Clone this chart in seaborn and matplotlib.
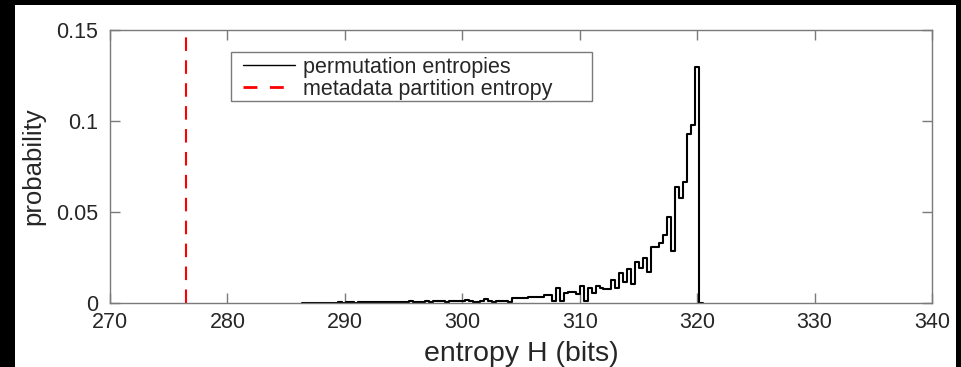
import numpy as np
import pandas as pd
import matplotlib
matplotlib.use("Agg")
import matplotlib.pyplot as plt
from matplotlib.patches import Rectangle
from matplotlib.lines import Line2D
import seaborn as sns

# ---- data ----
bin_lo = 286.35
bin_hi = 320.13
prob = [
    0.0001, 0.0001, 0.0002, 0.0001, 0.0002, 0.0002, 0.0001, 0.0002, 0.0002, 0.0003,
    0.0002, 0.0003, 0.0003, 0.0002, 0.0003, 0.0004, 0.0003, 0.0004, 0.0005, 0.0004,
    0.0005, 0.0004, 0.0006, 0.0005, 0.0007, 0.0006, 0.0008, 0.0009, 0.0008, 0.0006,
    0.0008, 0.0009, 0.0007, 0.0010, 0.0009, 0.0011, 0.0008, 0.0012, 0.0010, 0.0013,
    0.0011, 0.0014, 0.0012, 0.0008, 0.0005, 0.0010, 0.0020, 0.0010, 0.0008, 0.0010,
    0.0012, 0.0012, 0.0008, 0.0027, 0.0029, 0.0027, 0.0027, 0.0031, 0.0031, 0.0031,
    0.0031, 0.0044, 0.0044, 0.0010, 0.0080, 0.0010, 0.0057, 0.0060, 0.0060, 0.0050,
    0.0093, 0.0010, 0.0084, 0.0057, 0.0095, 0.0084, 0.0077, 0.0077, 0.0126, 0.0080,
    0.0163, 0.0117, 0.0185, 0.0104, 0.0227, 0.0190, 0.0245, 0.0172, 0.0310, 0.0310,
    0.0328, 0.0374, 0.0474, 0.0286, 0.0640, 0.0575, 0.0667, 0.0929, 0.0978, 0.1295,
]
metadata_entropy = 276.5
x_ticks = [270, 280, 290, 300, 310, 320, 330, 340]
y_ticks = [0, 0.05, 0.1, 0.15]
y_ticklabels = ["0", "0.05", "0.1", "0.15"]
xlabel = "entropy H (bits)"
ylabel = "probability"
legend_labels = ["permutation entropies", "metadata partition entropy"]

# ---- build histogram table ----
n = len(prob)
edges = np.linspace(bin_lo, bin_hi, n + 1)
width = edges[1] - edges[0]
# one extra empty bin so the outline drops back to zero at the last edge
edges_ext = [float(e) for e in np.append(edges, bin_hi + width)]
centers = [(a + b) / 2 for a, b in zip(edges_ext[:-1], edges_ext[1:])]
df = pd.DataFrame({"H": centers, "p": prob + [0.0]})

sns.set_theme(style="white")
plt.rcParams["font.family"] = ["Liberation Sans", "DejaVu Sans"]

W, H = 961, 367
fig = plt.figure(figsize=(W / 100, H / 100), dpi=100)
fig.patch.set_facecolor("black")
fig.add_artist(Rectangle((15 / W, 0), (956 - 15) / W, (H - 5) / H,
                         transform=fig.transFigure, facecolor="white",
                         edgecolor="none", zorder=-10))

AX_L, AX_R, AX_T, AX_B = 110, 932, 30, 303
ax = fig.add_axes([AX_L / W, (H - AX_B) / H, (AX_R - AX_L) / W, (AX_B - AX_T) / H])
ax.set_facecolor("white")

sns.histplot(data=df, x="H", weights="p", bins=edges_ext, element="step",
             fill=False, color="black", linewidth=1.5, ax=ax)
ax.axvline(metadata_entropy, color="#ff0000", linewidth=1.5, dashes=(6.5, 4.5))

ax.set_xlim(270, 340)
ax.set_ylim(0, 0.15)
ax.set_xticks(x_ticks)
ax.set_xticklabels([str(t) for t in x_ticks])
ax.set_yticks(y_ticks)
ax.set_yticklabels(y_ticklabels)

axis_col = "#7a7a7a"
text_col = "#262626"
for s in ax.spines.values():
    s.set_visible(True)
    s.set_color(axis_col)
    s.set_linewidth(1.0)
ax.tick_params(direction="in", length=7, width=1.0, color=axis_col,
               labelcolor=text_col, labelsize=15.5, top=True, right=True,
               bottom=True, left=True)
ax.tick_params(axis="x", pad=6.5)
ax.tick_params(axis="y", pad=8.5)
ax.set_xlabel(xlabel, fontsize=20.5, color=text_col, labelpad=6)
ax.set_ylabel(ylabel, fontsize=18.5, color=text_col, labelpad=8)


def ax_x(px):
    return (px - AX_L) / (AX_R - AX_L)


def ax_y(py):
    return (AX_B - py) / (AX_B - AX_T)


# legend frame (drawn separately so the box can be wider than its contents)
frame = Rectangle((ax_x(231), ax_y(101)), ax_x(592) - ax_x(231), ax_y(52) - ax_y(101),
                  transform=ax.transAxes, facecolor="white", edgecolor=axis_col,
                  linewidth=1.0, zorder=4)
ax.add_patch(frame)

handles = [Line2D([], [], color="black", linewidth=1.0),
           Line2D([], [], color="#ff0000", linewidth=2.0, dashes=(5.0, 4.5))]
leg = ax.legend(handles, legend_labels, loc="upper left",
                bbox_to_anchor=(ax_x(243), ax_y(56.5)),
                fontsize=15.5, frameon=False, handlelength=2.42,
                handletextpad=0.37, labelspacing=0.05, borderpad=0,
                borderaxespad=0)
leg.set_zorder(5)
for t in leg.get_texts():
    t.set_color(text_col)

fig.savefig("out.png", dpi=100, facecolor=fig.get_facecolor())
